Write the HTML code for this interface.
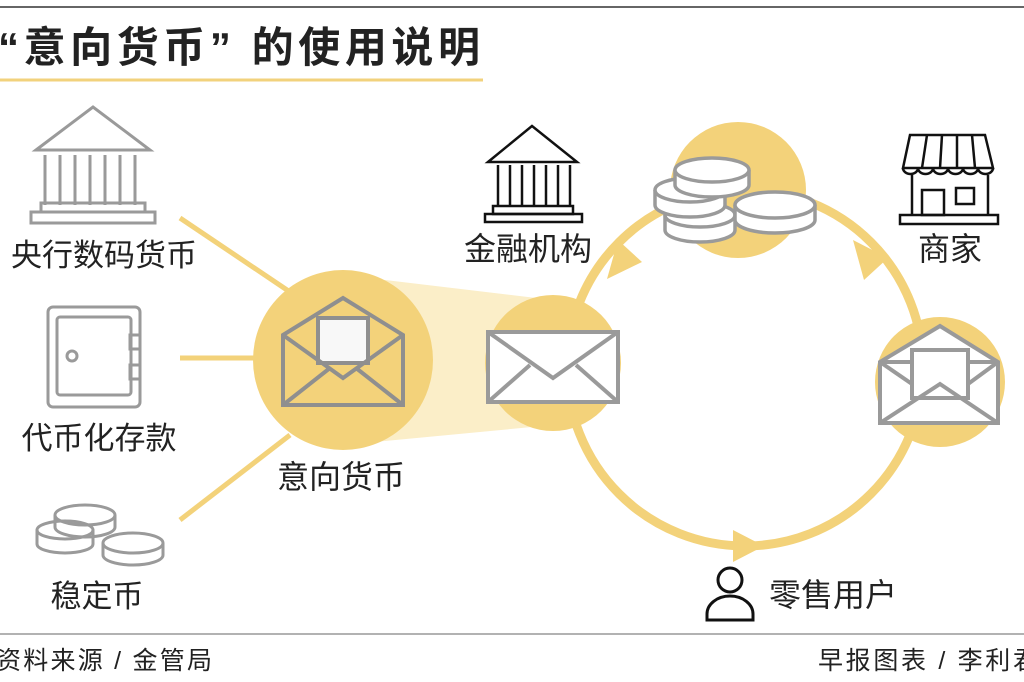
<!DOCTYPE html>
<html><head><meta charset="utf-8"><style>
html,body{margin:0;padding:0;background:#fff;}
svg{display:block;}
text{font-family:"Liberation Sans","Noto Sans CJK SC",sans-serif;fill:#222;}
</style></head><body>
<svg width="1024" height="682" viewBox="0 0 1024 682" xmlns="http://www.w3.org/2000/svg">
<line x1="0" y1="7" x2="1024" y2="7" stroke="#333" stroke-width="1.5"/>
<text x="-2" y="62" font-size="42" font-weight="bold" fill="#111" textLength="482" lengthAdjust="spacing">“意向货币” 的使用说明</text>
<line x1="0" y1="80" x2="483" y2="80" stroke="#f2d27c" stroke-width="3"/>

<g stroke="#f3d27a" stroke-width="5">
<line x1="180" y1="218" x2="290" y2="292"/>
<line x1="180" y1="358" x2="260" y2="358"/>
<line x1="180" y1="520" x2="290" y2="435"/>
</g>
<polygon points="343,275 553,300 553,425 343,445" fill="#fbeec8"/>
<circle cx="745" cy="368" r="178" fill="none" stroke="#f3d27a" stroke-width="9"/>
<circle cx="343" cy="360" r="90" fill="#f3d27a"/>
<circle cx="553" cy="363" r="68" fill="#f3d27a"/>
<circle cx="738" cy="190" r="68" fill="#f3d27a"/>
<circle cx="940" cy="382" r="65" fill="#f3d27a"/>
<polygon points="607,279 642,262 618,240" fill="#f3d27a"/>
<polygon points="853,240 888,258 864,280" fill="#f3d27a"/>
<polygon points="764,546 733,530 733,562" fill="#f3d27a"/>

<g fill="none" stroke="#9a9a9a" stroke-width="3">
<polygon points="36,150 93,107 150,150"/>
<line x1="45" y1="155" x2="45" y2="205"/><line x1="60" y1="155" x2="60" y2="205"/><line x1="75" y1="155" x2="75" y2="205"/><line x1="90" y1="155" x2="90" y2="205"/><line x1="105" y1="155" x2="105" y2="205"/><line x1="120" y1="155" x2="120" y2="205"/><line x1="135" y1="155" x2="135" y2="205"/>
<rect x="41" y="203" width="104" height="9"/>
<rect x="31" y="212" width="124" height="11"/>
<rect x="48" y="307" width="92" height="100" rx="5"/>
<rect x="57" y="317" width="74" height="78" rx="3"/>
<circle cx="72" cy="356" r="5"/>
<rect x="130" y="335" width="10" height="14"/><rect x="130" y="365" width="10" height="14"/>
<ellipse cx="85" cy="515" rx="30" ry="10"/><path d="M55,515 v12 a30,10 0 0 0 60,0 v-12"/>
<ellipse cx="65" cy="530" rx="28" ry="9"/><path d="M37,530 v14 a28,9 0 0 0 56,0 v-14"/>
<ellipse cx="133" cy="543" rx="30" ry="10"/><path d="M103,543 v12 a30,10 0 0 0 60,0 v-12"/>
</g>
<text x="104" y="266" font-size="31" text-anchor="middle">央行数码货币</text>
<text x="99" y="449" font-size="31" text-anchor="middle">代币化存款</text>
<text x="97" y="607" font-size="31" text-anchor="middle">稳定币</text>

<g fill="none" stroke="#8f8f8f" stroke-width="4">
<polygon points="283,335 343,298 403,335 403,405 283,405"/>
<rect x="318" y="318" width="50" height="45" fill="#f8f8f8"/>
<polyline points="283,335 343,378 403,335"/>
<line x1="283" y1="405" x2="330" y2="368"/><line x1="403" y1="405" x2="356" y2="368"/>
</g>
<text x="341" y="488" font-size="32" text-anchor="middle">意向货币</text>

<g fill="#fff" stroke="#9a9a9a" stroke-width="4">
<rect x="488" y="332" width="130" height="70"/>
<polyline points="488,332 553,378 618,332" fill="none"/>
<line x1="488" y1="402" x2="530" y2="365"/><line x1="618" y1="402" x2="576" y2="365"/>
</g>
<g fill="none" stroke="#9a9a9a" stroke-width="4">
<polygon points="880,362 940,326 998,362 998,423 880,423" fill="#fff"/>
<rect x="912" y="350" width="56" height="48" fill="#fff"/>
<line x1="880" y1="362" x2="912" y2="362"/><line x1="968" y1="362" x2="998" y2="362"/>
<polyline points="880,423 940,384 998,423"/>
<line x1="880" y1="362" x2="912" y2="384"/><line x1="998" y1="362" x2="968" y2="384"/>
</g>
<g fill="#fff" stroke="#9a9a9a" stroke-width="3.5">
<path d="M665,215 v15 a35,12 0 0 0 70,0 v-15"/><ellipse cx="700" cy="215" rx="35" ry="12"/>
<path d="M655,190 v15 a35,12 0 0 0 70,0 v-15"/><ellipse cx="690" cy="190" rx="35" ry="12"/>
<path d="M675,170 v15 a37,12 0 0 0 74,0 v-15"/><ellipse cx="712" cy="170" rx="37" ry="12"/>
<path d="M735,205 v15 a40,13 0 0 0 80,0 v-15"/><ellipse cx="775" cy="205" rx="40" ry="13"/>
</g>
<g fill="none" stroke="#111" stroke-width="2.5">
<polygon points="488,162 532,126 577,162"/>
<line x1="498" y1="165" x2="498" y2="206"/><line x1="510" y1="165" x2="510" y2="206"/><line x1="522" y1="165" x2="522" y2="206"/><line x1="534" y1="165" x2="534" y2="206"/><line x1="546" y1="165" x2="546" y2="206"/><line x1="558" y1="165" x2="558" y2="206"/><line x1="570" y1="165" x2="570" y2="206"/>
<rect x="493" y="206" width="80" height="8"/><rect x="485" y="214" width="97" height="8"/>
</g>
<text x="528" y="260" font-size="32" text-anchor="middle">金融机构</text>
<g fill="none" stroke="#111" stroke-width="2.5">
<polygon points="910,135 985,135 993,168 903,168"/>
<path d="M903,168 a7.5,6 0 0 0 15,0 a7.5,6 0 0 0 15,0 a7.5,6 0 0 0 15,0 a7.5,6 0 0 0 15,0 a7.5,6 0 0 0 15,0 a7.5,6 0 0 0 15,0"/>
<line x1="927" y1="135" x2="922" y2="168"/><line x1="942" y1="135" x2="940" y2="168"/><line x1="957" y1="135" x2="957" y2="168"/><line x1="972" y1="135" x2="975" y2="168"/>
<line x1="912" y1="175" x2="912" y2="215"/><line x1="988" y1="175" x2="988" y2="215"/>
<rect x="922" y="190" width="22" height="25"/><rect x="956" y="188" width="18" height="16"/>
<rect x="900" y="215" width="98" height="9"/>
</g>
<text x="950" y="260" font-size="32" text-anchor="middle">商家</text>
<g fill="none" stroke="#111" stroke-width="3">
<circle cx="730" cy="580" r="12"/>
<path d="M707,620 v-6 a23,18 0 0 1 46,0 v6 z"/>
</g>
<text x="833" y="606" font-size="32" text-anchor="middle">零售用户</text>

<line x1="0" y1="634" x2="1024" y2="634" stroke="#999" stroke-width="1.5"/>
<text x="-4" y="669" font-size="25" fill="#333" textLength="216" lengthAdjust="spacing">资料来源 / 金管局</text>
<text x="818" y="669" font-size="25" fill="#333" textLength="220" lengthAdjust="spacing">早报图表 / 李利君</text>
</svg>
</body></html>
